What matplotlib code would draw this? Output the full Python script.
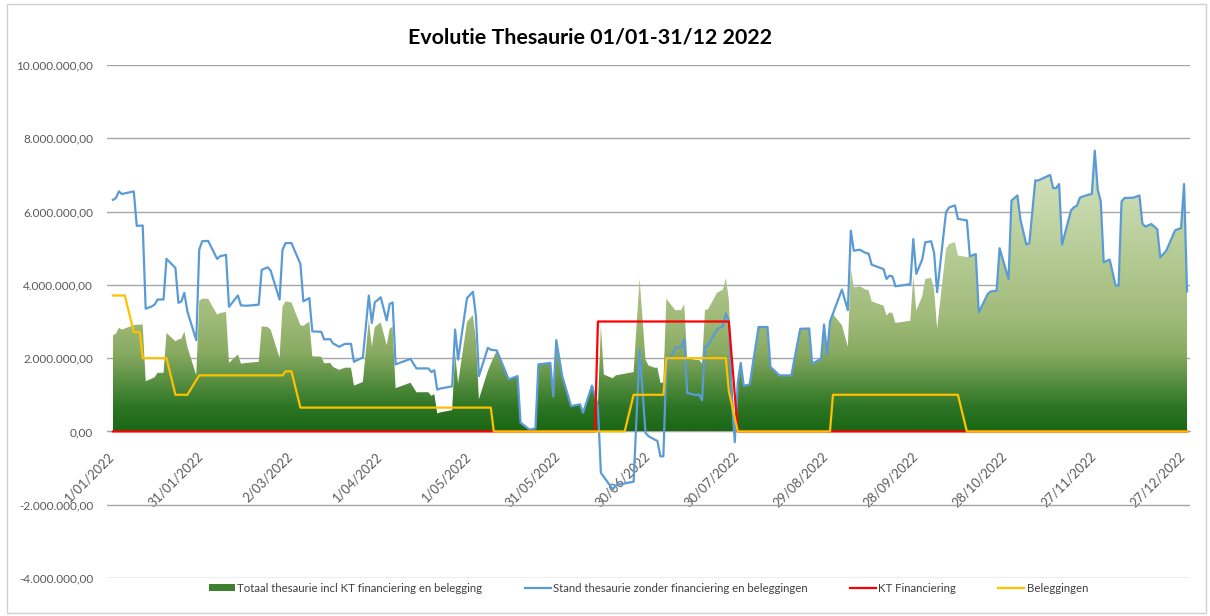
import numpy as np
import matplotlib
matplotlib.use("Agg")
import matplotlib.pyplot as plt
import matplotlib.dates as mdates
import matplotlib.transforms as mtransforms
from matplotlib.colors import LinearSegmentedColormap
from matplotlib.patches import Patch, Rectangle
from matplotlib.lines import Line2D
from matplotlib.ticker import FuncFormatter, FixedLocator

plt.rcParams['font.family'] = ['Lato', 'DejaVu Sans']

title = "Evolutie Thesaurie 01/01-31/12 2022"
start_date = np.datetime64('2022-01-01')
tick_days = list(range(0, 361, 30))

label_totaal = "Totaal thesaurie incl KT financiering en belegging"
label_stand = "Stand thesaurie zonder financiering en beleggingen"
label_kt = "KT Financiering"
label_bel = "Beleggingen"

# Stand thesaurie zonder financiering en beleggingen (day offset, million EUR)
stand_days = [0, 1, 2, 3, 7, 8, 10, 11, 13, 14, 15, 17, 18, 21, 22, 23, 24, 25, 28, 29,
              30, 32, 35, 36, 38, 39, 42, 43, 45, 49, 50, 52, 53, 56, 57, 58, 60, 63, 64, 66,
              67, 70, 71, 73, 74, 76, 78, 80, 81, 84, 86, 87, 88, 90, 92, 93, 94, 95, 97, 100,
              102, 106, 107, 108, 109, 110, 114, 115, 116, 119, 121, 122, 123, 126, 127, 129, 133, 136, 137, 140,
              142, 143, 147, 148, 149, 151, 154, 157, 158, 161, 163, 164, 168, 169, 175, 177, 179, 180, 182, 183,
              184, 185, 186, 188, 189, 191, 192, 193, 196, 197, 198, 199, 200, 203, 204, 205, 206, 207, 208, 209,
              210, 211, 212, 214, 217, 220, 221, 224, 228, 231, 234, 235, 238, 239, 240, 241, 245, 247, 248, 249,
              251, 253, 254, 255, 256, 259, 260, 261, 262, 263, 268, 269, 270, 272, 273, 275, 276, 277, 280, 281,
              283, 284, 287, 288, 290, 291, 294, 295, 297, 298, 301, 302, 304, 305, 307, 308, 310, 311, 315, 316,
              317, 318, 319, 322, 323, 324, 325, 327, 329, 330, 331, 332, 333, 335, 337, 338, 339, 340, 343, 345,
              346, 347, 349, 351, 352, 354, 357, 359, 360, 361]
stand_vals = [6.32, 6.37, 6.55, 6.48, 6.55, 5.61, 5.62, 3.35, 3.41, 3.46, 3.60, 3.60, 4.71, 4.46, 3.51, 3.55, 3.78, 3.28, 2.49, 4.96,
              5.19, 5.20, 4.71, 4.78, 4.82, 3.40, 3.71, 3.44, 3.43, 3.46, 4.41, 4.48, 4.39, 3.60, 4.96, 5.14, 5.14, 4.57, 3.55, 3.64,
              2.73, 2.72, 2.51, 2.52, 2.40, 2.31, 2.39, 2.39, 1.90, 2.02, 3.71, 2.96, 3.52, 3.66, 3.03, 3.48, 3.52, 1.83, 1.89, 1.98,
              1.72, 1.72, 1.62, 1.67, 1.14, 1.17, 1.23, 2.78, 1.96, 3.64, 3.81, 3.14, 1.51, 2.28, 2.23, 2.21, 1.42, 1.51, 0.24, 0.05,
              0.08, 1.83, 1.87, 0.96, 2.49, 1.51, 0.69, 0.74, 0.51, 1.25, 0.69, -1.13, -1.58, -1.47, -1.37, 2.23, -0.04, -0.13, -0.22, -0.26,
              -0.68, -0.68, 1.87, 2.10, 2.28, 2.30, 2.51, 1.05, 0.99, 1.01, 0.85, 2.32, 2.34, 2.78, 2.83, 2.87, 3.22, 3.01, 0.87, -0.29,
              1.33, 1.87, 1.25, 1.28, 2.85, 2.85, 1.76, 1.53, 1.53, 2.80, 2.81, 1.85, 1.98, 2.92, 2.10, 3.00, 3.87, 3.31, 5.48, 4.93,
              4.96, 4.87, 4.85, 4.55, 4.52, 4.43, 4.16, 4.25, 4.23, 3.96, 4.02, 5.25, 4.30, 4.69, 5.16, 5.19, 4.87, 3.80, 5.98, 6.11,
              6.17, 5.80, 5.76, 4.78, 4.84, 3.25, 3.75, 3.82, 3.84, 5.00, 4.16, 6.30, 6.44, 5.78, 5.10, 5.14, 6.85, 6.85, 7.00, 6.64,
              6.64, 6.75, 5.10, 6.03, 6.12, 6.16, 6.38, 6.44, 6.48, 7.66, 6.59, 6.28, 4.62, 4.69, 3.98, 3.98, 6.28, 6.37, 6.38, 6.44,
              5.67, 5.59, 5.66, 5.52, 4.75, 4.93, 5.49, 5.55, 6.75, 3.82]

# Totaal thesaurie incl KT financiering en belegging (day offset, million EUR)
totaal_days = [0, 1, 2, 3, 7, 8, 10, 11, 13, 14, 15, 17, 18, 21, 22, 23, 24, 25, 28, 29,
               30, 32, 35, 36, 38, 39, 42, 43, 45, 49, 50, 52, 53, 56, 57, 58, 60, 63, 64, 66,
               67, 70, 71, 73, 74, 76, 78, 80, 81, 84, 86, 87, 88, 90, 92, 93, 94, 95, 97, 100,
               102, 106, 107, 108, 109, 110, 114, 115, 116, 119, 121, 122, 123, 126, 127, 129, 133, 136, 137, 140,
               142, 143, 147, 148, 149, 151, 154, 157, 158, 161, 163, 164, 165, 168, 169, 175, 177, 179, 180, 182,
               183, 184, 185, 186, 189, 191, 192, 193, 196, 197, 198, 199, 200, 203, 204, 205, 206, 207, 208, 209,
               210, 211, 212, 214, 217, 220, 221, 224, 228, 231, 234, 235, 238, 239, 240, 241, 242, 245, 247, 248,
               249, 251, 253, 254, 255, 256, 259, 260, 261, 262, 263, 268, 269, 270, 272, 273, 275, 276, 277, 280,
               281, 283, 284, 287, 288, 290, 291, 294, 295, 297, 298, 301, 302, 304, 305, 307, 308, 310, 311, 315,
               316, 317, 318, 319, 322, 323, 324, 325, 327, 329, 330, 331, 332, 333, 335, 337, 338, 339, 340, 343,
               345, 346, 347, 349, 351, 352, 354, 357, 359, 360, 361]
totaal_vals = [2.62, 2.67, 2.83, 2.78, 2.90, 2.91, 2.92, 1.37, 1.44, 1.48, 1.60, 1.60, 2.69, 2.46, 2.51, 2.53, 2.73, 2.31, 1.53, 3.57,
               3.62, 3.62, 3.19, 3.23, 3.26, 1.87, 2.10, 1.85, 1.87, 1.90, 2.87, 2.85, 2.78, 2.01, 3.41, 3.55, 3.52, 2.90, 2.88, 3.00,
               2.05, 2.04, 1.86, 1.87, 1.76, 1.68, 1.74, 1.74, 1.25, 1.35, 3.05, 2.31, 2.85, 2.98, 2.35, 2.80, 2.86, 1.18, 1.24, 1.33,
               1.07, 1.07, 0.97, 1.02, 0.49, 0.52, 0.58, 2.13, 1.31, 2.99, 3.18, 2.49, 0.88, 1.65, 1.85, 2.21, 1.42, 1.51, 0.24, 0.05,
               0.08, 1.83, 1.87, 0.96, 2.49, 1.51, 0.69, 0.74, 0.51, 1.25, 0.69, 2.90, 1.55, 1.45, 1.53, 1.62, 4.18, 1.96, 1.80, 1.74,
               1.74, 1.33, 1.33, 3.62, 3.31, 3.31, 3.48, 2.00, 1.95, 1.95, 1.85, 3.32, 3.33, 3.78, 3.83, 3.87, 4.18, 3.60, 1.60, 0.00,
               1.33, 1.87, 1.25, 1.28, 2.85, 2.85, 1.76, 1.53, 1.53, 2.80, 2.81, 1.85, 1.98, 2.92, 2.10, 3.00, 3.20, 2.90, 2.31, 4.46,
               3.93, 3.96, 3.87, 3.85, 3.55, 3.52, 3.43, 3.16, 3.25, 3.23, 2.96, 3.02, 4.25, 3.30, 3.69, 4.16, 4.19, 3.87, 2.80, 4.98,
               5.11, 5.17, 4.80, 4.76, 4.78, 4.84, 3.25, 3.75, 3.82, 3.84, 5.00, 4.16, 6.30, 6.44, 5.78, 5.10, 5.14, 6.85, 6.85, 7.00,
               6.64, 6.64, 6.75, 5.10, 6.03, 6.12, 6.16, 6.38, 6.44, 6.48, 7.66, 6.59, 6.28, 4.62, 4.69, 3.98, 3.98, 6.28, 6.37, 6.38,
               6.44, 5.67, 5.59, 5.66, 5.52, 4.75, 4.93, 5.49, 5.55, 6.75, 3.82]

# KT Financiering (day offset, million EUR)
kt_days = [0, 162, 163, 207, 210, 361]
kt_vals = [0.0, 0.0, 3.0, 3.0, 0.0, 0.0]

# Beleggingen (day offset, million EUR)
bel_days = [0, 4, 7, 9, 10, 18, 21, 25, 29, 57, 58, 60, 63, 127, 128, 172, 175, 185, 186, 206,
            207, 210, 241, 242, 284, 287, 361]
bel_vals = [3.71, 3.71, 2.71, 2.71, 2.00, 2.00, 1.00, 1.00, 1.53, 1.53, 1.64, 1.64, 0.65, 0.65, 0.0, 0.0, 1.00, 1.00, 2.00, 2.00,
            1.10, 0.0, 0.0, 1.00, 1.00, 0.0, 0.0]

y_ticks = [-4e6, -2e6, 0, 2e6, 4e6, 6e6, 8e6, 10e6]


def to_dates(days):
    return start_date + np.array(days, dtype='timedelta64[D]')


def nl_fmt(v, pos=None):
    s = f"{v:,.2f}"
    return s.replace(',', 'X').replace('.', ',').replace('X', '.')


def date_fmt(v, pos=None):
    d = mdates.num2date(v)
    return f"{d.day}/{d.month:02d}/{d.year}"


W, H = 1210, 616
fig = plt.figure(figsize=(W / 100, H / 100), dpi=100)
fig.patch.set_facecolor('white')

# chart border
fig.add_artist(Rectangle((7 / W, 3 / H), 1199 / W, 609 / H, transform=fig.transFigure,
                         fill=False, edgecolor='#d0d0d0', lw=1.0))

ax = fig.add_axes([107 / W, 1 - 578 / H, (1190 - 107) / W, (578 - 65) / H])
ax.set_facecolor('none')

xt = to_dates(totaal_days)
yt = np.array(totaal_vals) * 1e6
x0 = mdates.date2num(to_dates([-2]))[0]
x1 = mdates.date2num(to_dates([362]))[0]

# area with vertical gradient
poly = ax.fill_between(xt, 0, yt, color='none', lw=0, zorder=1)
cmap = LinearSegmentedColormap.from_list('grn', [
    (0.0, '#1b6716'), (0.08, '#2b7423'), (0.18, '#5a9043'), (0.28, '#8aab62'),
    (0.42, '#a2bc7c'), (0.6, '#b2c991'), (0.8, '#c6d8ac'), (1.0, '#d9e7c8')])
ymax = yt.max()
grad = np.linspace(0, 1, 256).reshape(-1, 1)
xd = mdates.date2num(xt)
im = ax.imshow(grad, cmap=cmap, aspect='auto', origin='lower',
               extent=[xd.min(), xd.max(), 0, ymax], zorder=1, interpolation='bilinear')
im.set_clip_path(poly.get_paths()[0], transform=ax.transData)

ax.plot(to_dates(stand_days), np.array(stand_vals) * 1e6, color='#5b9bd5', lw=1.6, zorder=3)
ax.plot(to_dates(kt_days), np.array(kt_vals) * 1e6, color='#ff0000', lw=1.6, zorder=4)
ax.plot(to_dates(bel_days), np.array(bel_vals) * 1e6, color='#ffc000', lw=1.6, zorder=5)

ax.set_xlim(x0, x1)
ax.set_ylim(-4e6, 10e6)
ax.yaxis.set_major_locator(FixedLocator(y_ticks))
ax.yaxis.set_major_formatter(FuncFormatter(nl_fmt))
ax.xaxis.set_major_locator(FixedLocator(mdates.date2num(to_dates(tick_days))))
ax.xaxis.set_major_formatter(FuncFormatter(date_fmt))

ax.grid(axis='y', color='#a6a6a6', lw=1.0, zorder=0)
ax.set_axisbelow(True)
for s in ['top', 'right', 'left']:
    ax.spines[s].set_visible(False)
ax.spines['bottom'].set_position(('data', 0))
ax.spines['bottom'].set_color('#a6a6a6')
ax.spines['bottom'].set_zorder(0.5)

ax.tick_params(axis='y', length=0, pad=10, labelsize=8.5, labelcolor='#595959')
ax.tick_params(axis='x', length=0, pad=9, labelsize=9.3, labelcolor='#595959')
shift = mtransforms.ScaledTranslation(-5 / 100, -6 / 100, fig.dpi_scale_trans)
for lab in ax.get_xticklabels():
    lab.set_rotation(45)
    lab.set_ha('right')
    lab.set_va('top')
    lab.set_rotation_mode('anchor')
    lab.set_transform(lab.get_transform() + shift)

fig.text(590.5 / W, 1 - 38 / H, title, ha='center', va='center', fontsize=15.4,
         fontweight='bold', color='black')

handles = [Patch(facecolor='#3f7f30', edgecolor='none'),
           Line2D([], [], color='#5b9bd5', lw=1.6),
           Line2D([], [], color='#ff0000', lw=1.6),
           Line2D([], [], color='#ffc000', lw=1.6)]
labels = [label_totaal, label_stand, label_kt, label_bel]
leg = fig.legend(handles, labels, loc='center', bbox_to_anchor=(648.5 / W, 1 - 588 / H), ncol=4,
                 frameon=False, fontsize=8.2, handlelength=2.3, handleheight=0.45,
                 handletextpad=0.2, columnspacing=3.7, labelcolor='#404040')

fig.savefig('out.png', dpi=100)
